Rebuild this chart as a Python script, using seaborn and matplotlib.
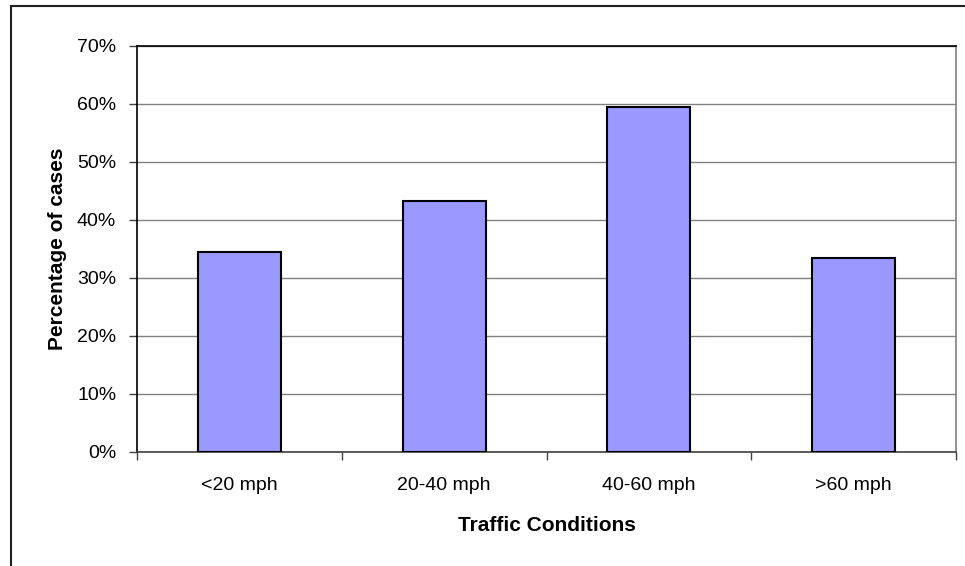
import matplotlib
matplotlib.use("Agg")
import matplotlib.pyplot as plt
import seaborn as sns
import pandas as pd
from matplotlib.patches import Rectangle
from matplotlib.ticker import FuncFormatter

categories = ["<20 mph", "20-40 mph", "40-60 mph", ">60 mph"]
values = [34.5, 43.2, 59.4, 33.4]
y_ticks = [0, 10, 20, 30, 40, 50, 60, 70]

sns.set_theme(style="white")
plt.rcParams['font.family'] = ['Liberation Sans', 'DejaVu Sans']
plt.rcParams['text.color'] = 'black'
plt.rcParams['axes.labelcolor'] = 'black'
plt.rcParams['xtick.color'] = 'black'
plt.rcParams['ytick.color'] = 'black'

df = pd.DataFrame({"cat": categories, "val": values})

W, H = 965, 566
fig = plt.figure(figsize=(W/100, H/100), dpi=100)
ax = fig.add_axes([137/W, 1 - 452/H, (956-137)/W, (452-46)/H])

sns.barplot(data=df, x="cat", y="val", color="#9999FF", saturation=1,
            width=0.405, edgecolor="black", linewidth=1.5, ax=ax, zorder=3)

ax.set_ylim(0, 70)
ax.set_xlim(-0.5, 3.5)
ax.set_yticks(y_ticks)
ax.yaxis.set_major_formatter(FuncFormatter(lambda v, p: f"{int(v)}%"))
ax.grid(axis="y", color="#808080", linewidth=1.0, zorder=0)
ax.set_axisbelow(True)

ax.set_xticks([0, 1, 2, 3])
ax.set_xticklabels(categories, fontsize=14)
ax.tick_params(axis="x", which="major", length=0, pad=18, labelsize=14, labelcolor="black")
ax.set_xticks([-0.5, 0.5, 1.5, 2.5, 3.5], minor=True)
ax.tick_params(axis="x", which="minor", length=6, width=1, color="#404040", direction="out", bottom=True)
ax.tick_params(axis="y", length=6, width=1, color="#404040", direction="out", labelsize=14, pad=9,
               left=True, labelcolor="black")

for s in ["left", "top"]:
    ax.spines[s].set_color("black")
    ax.spines[s].set_linewidth(1.2)
ax.spines["right"].set_color("#808080")
ax.spines["right"].set_linewidth(1.2)
ax.spines["bottom"].set_color("#404040")
ax.spines["bottom"].set_linewidth(1.2)

ax.set_xlabel("Traffic Conditions", fontsize=15, fontweight="bold", labelpad=16, color="black")
ax.set_ylabel("Percentage of cases", fontsize=15, fontweight="bold", labelpad=7, color="black")

fig.patches.append(Rectangle((11/W, -0.1), 1.2, 1 - 5.5/H + 0.1, transform=fig.transFigure,
                             fill=False, edgecolor="#202020", linewidth=1.5))

fig.savefig("out.png", dpi=100)
